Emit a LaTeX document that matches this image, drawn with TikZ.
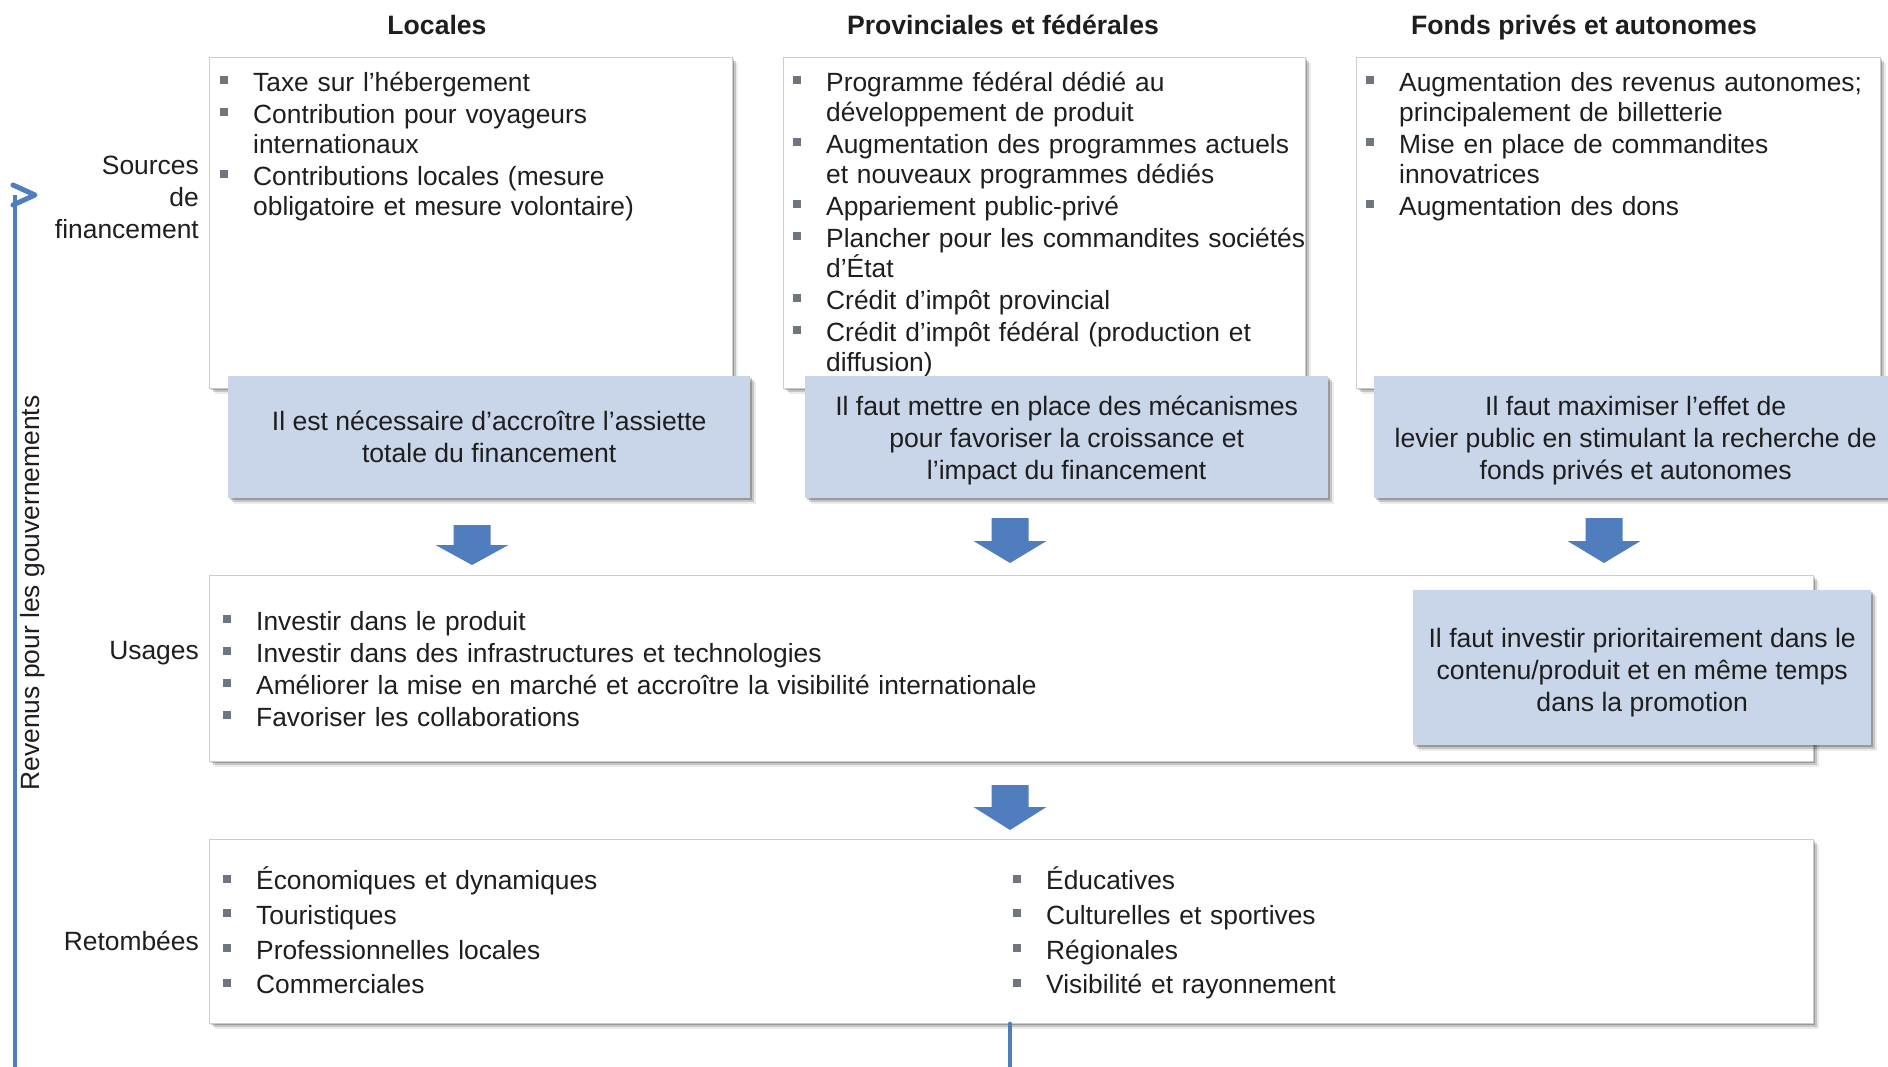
\documentclass[tikz,border=0pt]{standalone}
\usepackage{fontspec}
\setmainfont{Liberation Sans}
\usetikzlibrary{shadows}
\definecolor{txt}{RGB}{30,30,30}
\definecolor{bul}{RGB}{112,118,128}
\definecolor{bluefill}{RGB}{201,214,233}
\definecolor{arrowblue}{RGB}{79,125,189}
\definecolor{edgegray}{RGB}{205,205,205}
\newcommand\blt{\makebox[33pt][l]{\textcolor{bul}{\rule[7pt]{8pt}{8pt}}}}
\newcommand\bitem[1]{\par\noindent\llap{\blt}#1\par}
\newcommand\dnarrow[4]{%
  \fill[arrowblue] ({#1-18.5},#2) -- ({#1+18.5},#2) -- ({#1+18.5},#3) -- ({#1+36.5},#3)
   -- (#1,#4) -- ({#1-36.5},#3) -- ({#1-18.5},#3) -- cycle;}
\tikzset{
  shadowfx/.style={
    drop shadow={shadow xshift=2pt, shadow yshift=-2pt, fill=black, opacity=0.22},
    drop shadow={shadow xshift=4pt, shadow yshift=-4pt, fill=black, opacity=0.16},
    drop shadow={shadow xshift=6pt, shadow yshift=-6pt, fill=black, opacity=0.08}},
  wbox/.style={draw=edgegray, line width=0.8pt, fill=white, anchor=north west, inner sep=0pt, shadowfx},
  bbox/.style={fill=bluefill, anchor=north west, inner sep=4pt, align=center,
    font=\fontsize{26.6}{32}\selectfont, text=txt, shadowfx},
  listnode/.style={anchor=base west, inner sep=0pt, text width=#1, align=left,
    font=\fontsize{26.35}{30}\selectfont, text=txt},
  heading/.style={anchor=base, inner sep=0pt, font=\bfseries\fontsize{26.6}{30}\selectfont, text=txt},
  rowlabel/.style={anchor=base east, inner sep=0pt, text width=220pt, align=right,
    font=\fontsize{26.4}{32}\selectfont, text=txt},
  conn/.style={draw=arrowblue, line width=4.5pt, line cap=round, line join=round},
}
\begin{document}
\begin{tikzpicture}[x=1pt,y=-1pt]
\useasboundingbox (0,0) rectangle (1888,1066);
\fill[white] (0,0) rectangle (1888,1066);

% headings
\node[heading] (h1) at (437,34) {Locales};
\node[heading] (h2) at (1003,34) {Provinciales et fédérales};
\node[heading] (h3) at (1584,34) {Fonds privés et autonomes};

% row labels
\node[rowlabel] (lsrc) at (199,174) {Sources\\de\\financement};
\node[rowlabel] (luse) at (199,659) {Usages};
\node[rowlabel] (lret) at (199,950) {Retombées};
\node[rotate=90, inner sep=0pt, font=\fontsize{26.4}{30}\selectfont, text=txt] (lrev) at (33,593) {Revenus pour les gouvernements};

% left arrow
\coordinate (lbot) at (15,1070);
\coordinate (ltop) at (15,195);
\draw[conn, line cap=butt] (lbot) -- (ltop);
\draw[conn, line width=5pt] (13,185) -- (35,195) -- (13,205);

% sources boxes
\node[wbox, minimum width=523pt, minimum height=331pt] (src1) at (209,57) {};
\node[listnode=560pt] (src1t) at (220,59) {\leftskip=33pt\parskip=2pt\relax
  \bitem{Taxe sur l’hébergement}
  \bitem{Contribution pour voyageurs\newline internationaux}
  \bitem{Contributions locales (mesure\newline obligatoire et mesure volontaire)}};
\node[bbox, minimum width=522pt, minimum height=122pt] (b1) at (228,376)
  {Il est nécessaire d’accroître l’assiette\\totale du financement};

\node[wbox, minimum width=522pt, minimum height=331pt] (src2) at (783,57) {};
\node[listnode=560pt] (src2t) at (793,59) {\leftskip=33pt\parskip=2pt\relax
  \bitem{Programme fédéral dédié au\newline développement de produit}
  \bitem{Augmentation des programmes actuels\newline et nouveaux programmes dédiés}
  \bitem{Appariement public-privé}
  \bitem{Plancher pour les commandites sociétés\newline d’État}
  \bitem{Crédit d’impôt provincial}
  \bitem{Crédit d’impôt fédéral (production et\newline diffusion)}};
\node[bbox, minimum width=523pt, minimum height=122pt] (b2) at (805,376)
  {\rule{0pt}{27pt}Il faut mettre en place des mécanismes\\pour favoriser la croissance et\\l’impact du financement};

\node[wbox, minimum width=524pt, minimum height=331pt] (src3) at (1356,57) {};
\node[listnode=560pt] (src3t) at (1366,59) {\leftskip=33pt\parskip=2pt\relax
  \bitem{Augmentation des revenus autonomes;\newline principalement de billetterie}
  \bitem{Mise en place de commandites\newline innovatrices}
  \bitem{Augmentation des dons}};
\node[bbox, minimum width=523pt, minimum height=122pt] (b3) at (1374,376)
  {\rule{0pt}{27pt}Il faut maximiser l’effet de\\levier public en stimulant la recherche de\\fonds privés et autonomes};

% arrows down
\dnarrow{472}{525}{545}{565}
\dnarrow{1010}{518}{541}{563}
\dnarrow{1604}{518}{541}{563}

% usages
\node[wbox, minimum width=1604pt, minimum height=186pt] (use) at (209,575) {};
\node[listnode=1000pt] (uset) at (223,598) {\leftskip=33pt\parskip=2pt\relax
  \bitem{Investir dans le produit}
  \bitem{Investir dans des infrastructures et technologies}
  \bitem{Améliorer la mise en marché et accroître la visibilité internationale}
  \bitem{Favoriser les collaborations}};
\node[bbox, minimum width=458pt, minimum height=155pt] (b4) at (1413,590)
  {\rule{0pt}{29pt}Il faut investir prioritairement dans le\\contenu/produit et en même temps\\dans la promotion};

\dnarrow{1010}{785}{807}{830}

% retombees
\node[wbox, minimum width=1604pt, minimum height=184pt] (ret) at (209,839) {};
\node[listnode=600pt] (retl) at (223,855) {\leftskip=33pt\parskip=4.7pt\relax
  \bitem{Économiques et dynamiques}
  \bitem{Touristiques}
  \bitem{Professionnelles locales}
  \bitem{Commerciales}};
\node[listnode=600pt] (retr) at (1013,855) {\leftskip=33pt\parskip=4.7pt\relax
  \bitem{Éducatives}
  \bitem{Culturelles et sportives}
  \bitem{Régionales}
  \bitem{Visibilité et rayonnement}};

\coordinate (botend) at (1010,1070);
\draw[conn] (ret.south -| botend) -- (botend);
\end{tikzpicture}
\end{document}
